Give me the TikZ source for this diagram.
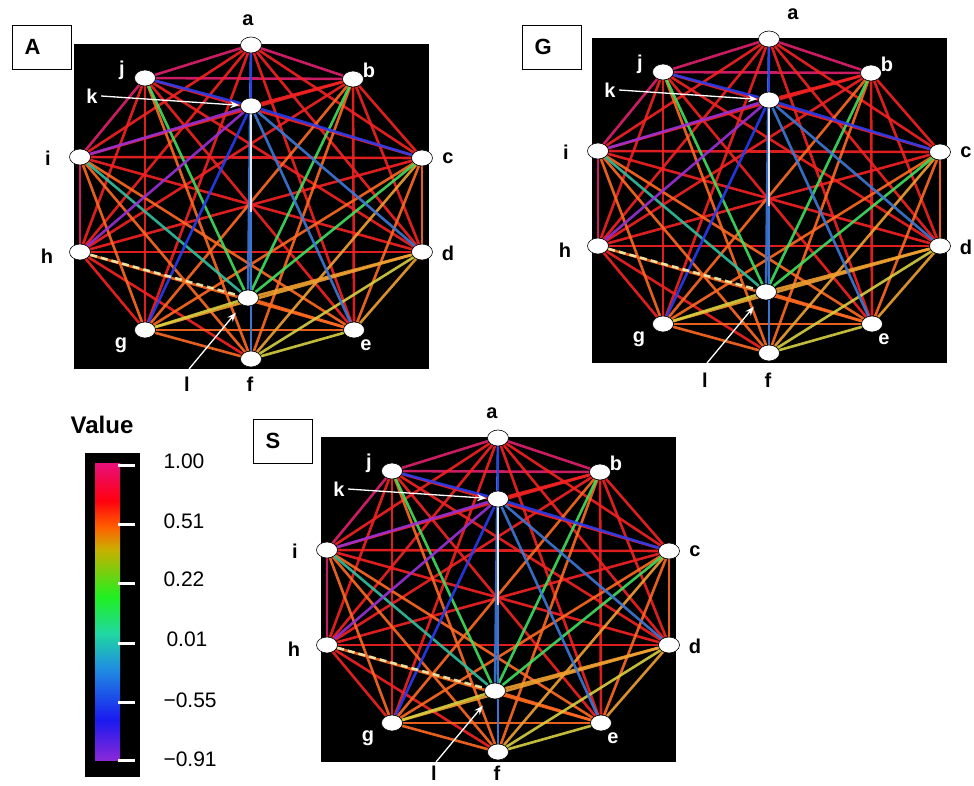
\documentclass[tikz,border=0pt]{standalone}
\usepackage{fontspec}
\setmainfont{Liberation Sans}
\usetikzlibrary{arrows.meta, shapes.geometric, backgrounds}
\usepackage{xcolor}
% edge colours
\definecolor{cPink}{HTML}{E0206E}
\definecolor{cRed}{HTML}{F42222}
\definecolor{cOrange}{HTML}{FF6A20}
\definecolor{cYelOr}{HTML}{F0A030}
\definecolor{cYellow}{HTML}{D8D040}
\definecolor{cGreen}{HTML}{40E060}
\definecolor{cTeal}{HTML}{30C0A0}
\definecolor{cSteel}{HTML}{3C78D8}
\definecolor{cBlue}{HTML}{2A3CF0}
\definecolor{cPurple}{HTML}{9A30D8}
\definecolor{cWhite}{HTML}{F4F4F4}
\definecolor{cCream}{HTML}{F0F0B0}
% colour bar
\definecolor{bViolet}{HTML}{8A28D8}
\definecolor{bBlue}{HTML}{1A1AF0}
\definecolor{bCyan}{HTML}{2090E0}
\definecolor{bTeal}{HTML}{20D8A0}
\definecolor{bGreen}{HTML}{20F020}
\definecolor{bOlive}{HTML}{C8B000}
\definecolor{bOrange}{HTML}{FF6000}
\definecolor{bRed}{HTML}{FF0010}
\definecolor{bPink}{HTML}{E8107A}
\pgfdeclareverticalshading{valuebar}{100bp}{color(0bp)=(bViolet); color(25bp)=(bViolet);
  color(31.75bp)=(bBlue); color(40.6bp)=(bCyan); color(46.4bp)=(bTeal);
  color(52.5bp)=(bGreen); color(60.4bp)=(bOlive); color(64.2bp)=(bOrange);
  color(68.7bp)=(bRed); color(75bp)=(bPink); color(100bp)=(bPink)}
\pgfdeclarelayer{back}
\pgfsetlayers{back,background,main}

\begin{document}
\begin{tikzpicture}[x=1pt, y=-1pt,
    vert/.style={ellipse, draw=black, line width=0.6pt, fill=white,
        minimum width=21pt, minimum height=16pt, inner sep=0pt},
    edge/.style={line width=2.6pt, opacity=0.9},
    lab/.style={font=\fontsize{20}{24}\selectfont\bfseries},
    inlab/.style={lab, text=white},
    panelbox/.style={draw=black, line width=0.8pt, minimum height=44pt,
        text width=35pt, inner xsep=12pt, align=left,
        font=\fontsize{22}{26}\selectfont\bfseries},
    pointer/.style={white, line width=1.3pt, -{Stealth[length=9pt, width=7pt]}},
    ticklab/.style={font=\fontsize{21}{24}\selectfont, anchor=west}
]
\useasboundingbox (0,0) rectangle (974,785);

% === The three networks ===
\foreach \pn/\cx/\cy/\ax/\fy/\bx/\by in {A/251/202/-3/182/-209/-155,
        G/769/196/24/184/-217/-149, S/498/595/-6/178/-215/-154} {
\begin{scope}[shift={(\cx,\cy)}]
    \begin{pgfonlayer}{back}
        \fill[black] (-177,-158) rectangle (178,167);
    \end{pgfonlayer}

    % vertices
    \foreach \v/\px/\py in {a/0/-157, b/102/-123, c/171/-44, d/171/50, e/103/128,
            f/0/157, g/-106/128, h/-171/50, i/-171/-45, j/-106/-124, k/0/-96, l/-3/96}
        \node[vert] (\pn-\v) at (\px,\py) {};
    \coordinate (\pn-o) at (0,10);

    % edges, coloured by value
    \begin{pgfonlayer}{background}
        \foreach \u/\w/\col in {a/b/cPink, a/j/cPink, b/j/cPink, i/j/cPink, h/i/cPink,
                a/c/cRed, a/d/cRed, a/e/cRed, a/g/cRed, a/h/cRed, a/i/cRed,
                b/c/cRed, b/d/cRed, b/e/cRed, b/h/cRed, b/i/cRed, b/k/cRed,
                c/h/cRed, c/i/cRed, c/j/cRed, d/h/cRed, d/i/cRed, d/j/cRed,
                e/j/cRed, f/h/cRed, g/h/cRed, g/j/cRed, h/j/cRed,
                f/j/cOrange, c/d/cOrange, c/e/cOrange, c/g/cOrange, e/g/cOrange,
                e/h/cOrange, e/i/cOrange, e/l/cOrange, f/g/cOrange, f/i/cOrange,
                g/i/cOrange, b/f/cOrange, b/g/cOrange,
                c/f/cYelOr, d/e/cYelOr, d/g/cYelOr, d/l/cYelOr,
                d/f/cYellow, e/f/cYellow, g/l/cYellow,
                j/l/cGreen, b/l/cGreen, c/l/cGreen, i/l/cTeal,
                a/f/cSteel, a/l/cSteel, f/k/cSteel, e/k/cSteel, d/k/cSteel,
                g/k/cBlue, c/k/cBlue, j/k/cBlue, a/k/cBlue,
                h/k/cPurple, i/k/cPurple}
            \draw[edge, \col] (\pn-\u) -- (\pn-\w);
        \draw[edge, cCream, dash pattern=on 7pt off 4pt] (\pn-h) -- (\pn-l);
        \draw[edge, cWhite] (\pn-k) -- (\pn-o);
    \end{pgfonlayer}

    % vertex labels
    \node[lab] (\pn-ta) at (\ax,-182) {a};
    \node[inlab] (\pn-tb) at (118,-132) {b};
    \node[lab] (\pn-tc) at (197,-44) {c};
    \node[lab] (\pn-td) at (197,51) {d};
    \node[inlab] (\pn-te) at (115,143) {e};
    \node[lab] (\pn-tf) at (-1,\fy) {f};
    \node[inlab] (\pn-tg) at (-130,143) {g};
    \node[lab] (\pn-th) at (-204,54) {h};
    \node[lab] (\pn-ti) at (-203,-44) {i};
    \node[inlab] (\pn-tj) at (-129,-132) {j};
    \node[inlab] (\pn-tk) at (-159,-106) {k};
    \node[lab] (\pn-tl) at (-64,\fy) {l};
    \coordinate (\pn-lt) at (-62,167);
    \draw[pointer, shorten >=1pt] (\pn-tk.east) -- (\pn-k);
    \draw[pointer, shorten >=10pt] (\pn-lt) -- (\pn-l);

    % panel letter
    \node[panelbox] (\pn-box) at (\bx,\by) {\pn};
\end{scope}
}

% === Colour bar ===
\node[font=\fontsize{24}{28}\selectfont\bfseries] (valtitle) at (102,425) {Value};
\fill[black] (85,453) rectangle (140,777);
\shade[shading=valuebar] (95,463) rectangle (120,760);
\foreach \ty in {465,524,583,643,702,760}
    \draw[white, line width=3pt] (118,\ty) -- (135,\ty);
\node[ticklab] (v1) at (160,461) {1.00};
\node[ticklab] (v2) at (160,521) {0.51};
\node[ticklab] (v3) at (160,579) {0.22};
\node[ticklab] (v4) at (163,639) {0.01};
\node[ticklab] (v5) at (160,700) {−0.55};
\node[ticklab] (v6) at (160,759) {−0.91};

\end{tikzpicture}
\end{document}
